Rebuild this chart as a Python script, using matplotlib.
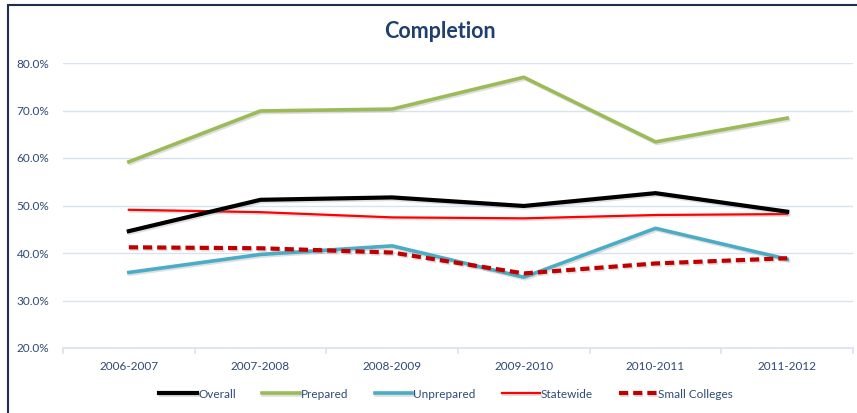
import matplotlib
matplotlib.use("Agg")
import matplotlib.pyplot as plt
import matplotlib.patheffects as pe
from matplotlib.patches import Rectangle
from matplotlib.ticker import FuncFormatter

years = ["2006-2007", "2007-2008", "2008-2009", "2009-2010", "2010-2011", "2011-2012"]
overall = [44.6, 51.2, 51.7, 49.9, 52.6, 48.7]
prepared = [59.2, 69.9, 70.3, 77.0, 63.4, 68.4]
unprepared = [35.9, 39.7, 41.5, 34.9, 45.2, 38.7]
statewide = [49.1, 48.6, 47.5, 47.3, 48.0, 48.2]
small_colleges = [41.2, 41.0, 40.1, 35.7, 37.8, 38.9]

TEXT = "#2E4A78"
GRID = "#D9E2F0"

plt.rcParams["font.family"] = ["Lato", "DejaVu Sans"]

fig = plt.figure(figsize=(8.57, 4.13), dpi=100)
ax = fig.add_axes([63 / 857, 1 - 348 / 413, 790 / 857, 285 / 413])

# frame of the chart object, cut off at right and bottom
fig.patches.append(Rectangle((8 / 857, -0.05), 1.1, 1 - 5 / 413 + 0.05,
                             transform=fig.transFigure, fill=False,
                             edgecolor="#1F2D4E", linewidth=1.5))

shadow = [pe.SimpleLineShadow(offset=(1, -1.2), alpha=0.25, shadow_color="gray"), pe.Normal()]
x = range(len(years))
ax.plot(x, overall, color="black", lw=3.0, label="Overall", path_effects=shadow, zorder=5)
ax.plot(x, prepared, color="#9BBB59", lw=2.6, label="Prepared", path_effects=shadow, zorder=4)
ax.plot(x, unprepared, color="#4BACC6", lw=2.6, label="Unprepared", path_effects=shadow, zorder=4)
ax.plot(x, statewide, color="#FF0000", lw=1.6, label="Statewide", path_effects=shadow, zorder=4)
ax.plot(x, small_colleges, color="#C00000", lw=3.0, ls=(0, (2.2, 1.2)), label="Small Colleges",
        path_effects=shadow, zorder=6)

ax.set_xlim(-0.5, len(years) - 0.5)
ax.set_ylim(20, 80)
ax.set_yticks(range(20, 81, 10))
ax.yaxis.set_major_formatter(FuncFormatter(lambda v, p: f"{v:.1f}%"))
ax.set_xticks(list(x))
ax.set_xticklabels(years)
ax.set_xticks([i - 0.5 for i in range(len(years) + 1)], minor=True)

ax.grid(axis="y", color=GRID, lw=1)
ax.set_axisbelow(True)
for s in ["top", "right", "left"]:
    ax.spines[s].set_visible(False)
ax.spines["bottom"].set_color(GRID)
ax.spines["bottom"].set_linewidth(1.2)

ax.tick_params(axis="y", length=0, pad=10, labelsize=8.5, labelcolor=TEXT)
ax.tick_params(axis="x", which="major", length=0, pad=9, labelsize=8.5, labelcolor=TEXT)
ax.tick_params(axis="x", which="minor", length=4, color=GRID, width=1.2)

fig.text(440 / 857, 1 - 32 / 413, "Completion", ha="center", va="center",
         fontsize=15.5, fontweight="bold", color="#1F3F6F")

leg = fig.legend(loc="center", bbox_to_anchor=(446 / 857, 1 - 394 / 413), ncol=5, frameon=False,
                 fontsize=8.5, handlelength=3.2, handletextpad=0.1, columnspacing=2.2)
for t in leg.get_texts():
    t.set_color(TEXT)

fig.savefig("out.png", dpi=100)
